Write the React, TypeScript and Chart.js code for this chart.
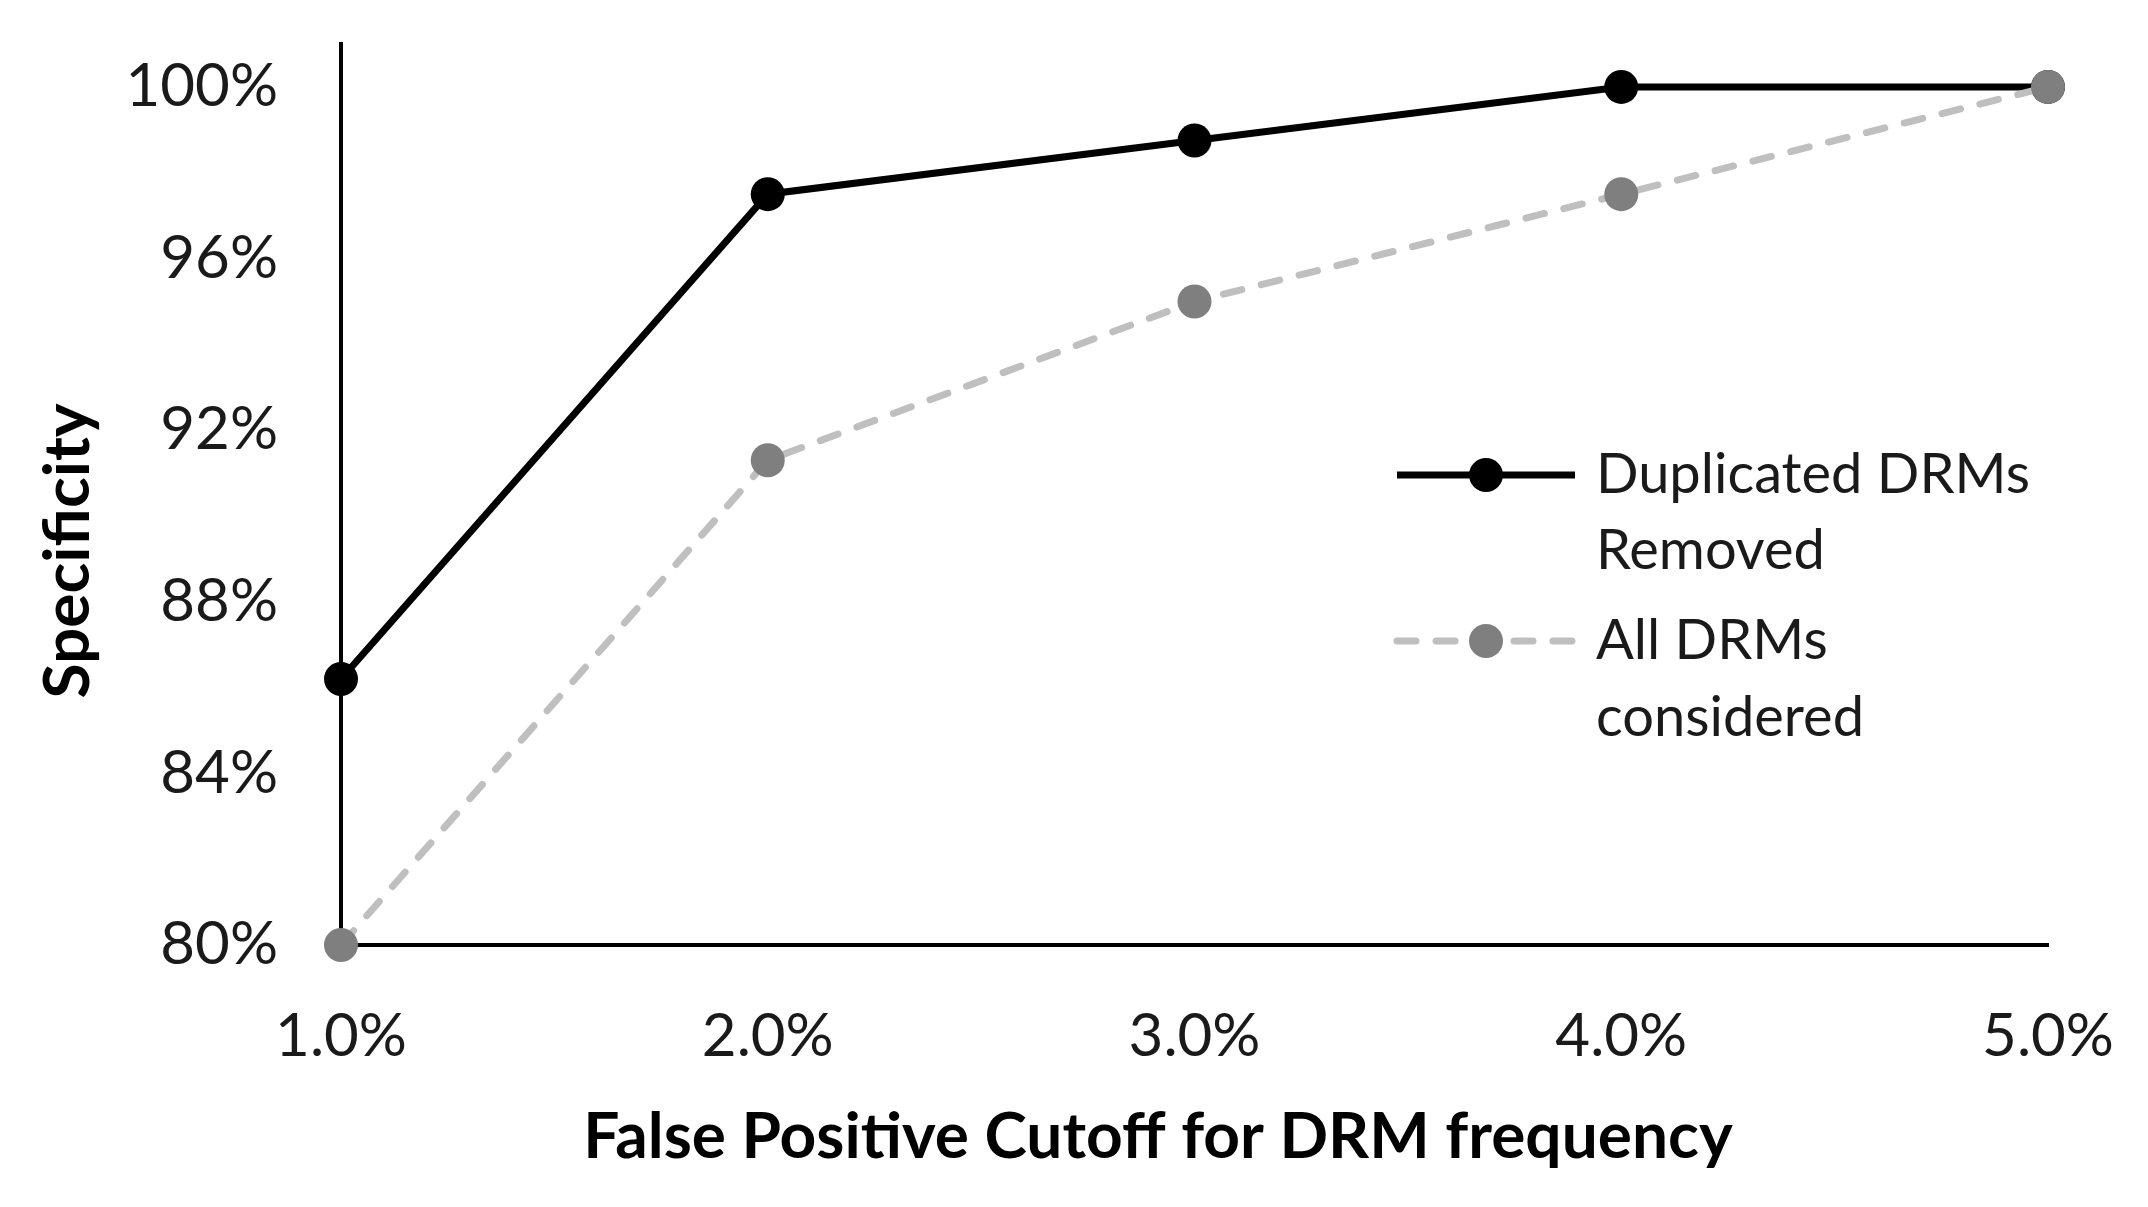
import React, { useEffect, useRef } from "react";
import { Chart, registerables } from "chart.js";

Chart.register(...registerables);

const categories = ["1.0%", "2.0%", "3.0%", "4.0%", "5.0%"];
const duplicatedRemoved = [86.2, 97.5, 98.75, 100, 100];
const allConsidered = [80, 91.3, 95, 97.5, 100];
const seriesNames = [["Duplicated DRMs", "Removed"], ["All DRMs", "considered"]];
const yTitle = "Specificity";
const xTitle = "False Positive Cutoff for DRM frequency";

const W = 2148;
const H = 1207;
const FONT = "Lato, 'Open Sans', sans-serif";

export default function App() {
  const ref = useRef<HTMLCanvasElement | null>(null);

  useEffect(() => {
    document.body.style.margin = "0";
    const canvas = ref.current;
    if (!canvas) return;

    const customPlugin = {
      id: "customDecor",
      afterDraw(chart: any) {
        const ctx = chart.ctx;
        const ca = chart.chartArea;
        ctx.save();
        // axis titles
        ctx.fillStyle = "#000";
        ctx.font = `bold 64px ${FONT}`;
        ctx.textAlign = "center";
        ctx.textBaseline = "middle";
        ctx.fillText(xTitle, ca.left + 817, 1137);
        ctx.translate(68, 551);
        ctx.rotate(-Math.PI / 2);
        ctx.fillText(yTitle, 0, 0);
        ctx.restore();

        // legend
        const ds = chart.data.datasets;
        const lx0 = ca.left + 1056;
        const lx1 = ca.left + 1234;
        const tx = ca.left + 1255;
        const rows = [
          { y: 475, y2: 551 },
          { y: 641, y2: 718 },
        ];
        rows.forEach((r, i) => {
          const d: any = ds[i];
          ctx.save();
          ctx.strokeStyle = d.borderColor;
          ctx.lineWidth = d.borderWidth;
          ctx.lineCap = d.borderCapStyle || "butt";
          ctx.setLineDash(d.borderDash || []);
          ctx.beginPath();
          ctx.moveTo(lx0, r.y);
          ctx.lineTo(lx1, r.y);
          ctx.stroke();
          ctx.setLineDash([]);
          ctx.fillStyle = d.pointBackgroundColor;
          ctx.beginPath();
          ctx.arc((lx0 + lx1) / 2, r.y, d.pointRadius, 0, Math.PI * 2);
          ctx.fill();
          ctx.fillStyle = "#1a1a1a";
          ctx.font = `56px ${FONT}`;
          ctx.textAlign = "left";
          ctx.textBaseline = "middle";
          ctx.fillText(seriesNames[i][0], tx, r.y);
          ctx.fillText(seriesNames[i][1], tx, r.y2);
          ctx.restore();
        });
      },
    };

    const chart = new Chart(canvas, {
      type: "line",
      data: {
        labels: categories,
        datasets: [
          {
            label: seriesNames[0].join(" "),
            data: duplicatedRemoved,
            borderColor: "#000000",
            backgroundColor: "#000000",
            pointBackgroundColor: "#000000",
            pointBorderWidth: 0,
            pointRadius: 17,
            borderWidth: 7,
            borderCapStyle: "butt",
            tension: 0,
            clip: false,
            order: 1,
          } as any,
          {
            label: seriesNames[1].join(" "),
            data: allConsidered,
            borderColor: "#bfbfbf",
            backgroundColor: "#7f7f7f",
            pointBackgroundColor: "#7f7f7f",
            pointBorderWidth: 0,
            pointRadius: 17,
            borderWidth: 7,
            borderDash: [19, 20],
            borderCapStyle: "round",
            tension: 0,
            clip: false,
            order: 0,
          } as any,
        ],
      },
      options: {
        responsive: false,
        animation: false,
        devicePixelRatio: 1,
        layout: { padding: { top: 44, right: 100, left: 0, bottom: 0 } },
        plugins: {
          legend: { display: false },
          tooltip: { enabled: false },
          title: { display: false },
        },
        scales: {
          x: {
            type: "category",
            offset: false,
            grid: { display: false, drawTicks: false },
            border: { display: true, color: "#000", width: 4 },
            ticks: {
              color: "#1a1a1a",
              font: { family: FONT, size: 60 },
              padding: 56,
              maxRotation: 0,
              autoSkip: false,
            },
            afterFit: (s: any) => {
              s.height = 262;
              s.paddingLeft = 0;
              s.paddingRight = 0;
            },
          },
          y: {
            type: "linear",
            min: 80,
            max: 101,
            grid: { display: false, drawTicks: false },
            border: { display: true, color: "#000", width: 4 },
            ticks: {
              stepSize: 4,
              includeBounds: false,
              color: "#1a1a1a",
              font: { family: FONT, size: 60 },
              padding: 63,
              callback: (v: any) => `${v}%`,
            },
            afterFit: (s: any) => {
              s.width = 341;
              s.paddingTop = 0;
              s.paddingBottom = 0;
            },
          },
        },
      },
      plugins: [customPlugin],
    });

    return () => chart.destroy();
  }, []);

  return (
    <div style={{ position: "absolute", left: 0, top: 0, width: W, height: H, background: "#fff" }}>
      <canvas ref={ref} width={W} height={H} style={{ width: W, height: H, display: "block" }} />
    </div>
  );
}
